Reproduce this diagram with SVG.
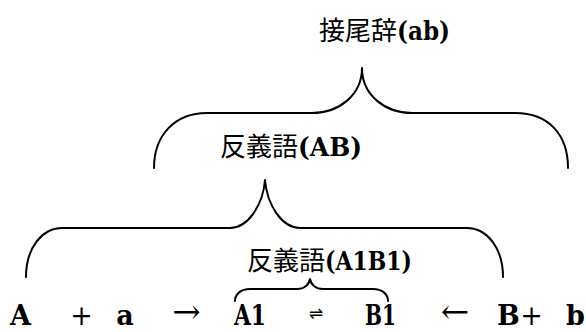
<svg xmlns="http://www.w3.org/2000/svg" width="586" height="332" viewBox="0 0 586 332">
<style>
.br{fill:none;stroke:#000;stroke-width:2;stroke-linecap:round;stroke-linejoin:round}
.cjk{font-family:'Noto Sans CJK JP',sans-serif;font-size:26px}
.lat{font-family:'DejaVu Serif',serif;font-size:26px;font-weight:bold}
.row{font-family:'DejaVu Serif',serif;font-size:27px;font-weight:bold}
.plus{font-family:'DejaVu Serif',serif;font-size:27px}
.arr{font-family:'DejaVu Serif',serif;font-size:34px}
</style>
<rect width="586" height="332" fill="#fff"/>
<g id="connectors">
<path class="br" d="M154,168 C154,135 175,113 207,113 L312,113 C339,113 362,95 362,68 C362,95 385,113 412,113 L515,113 C549,113 568,135 568,168"/>
<path class="br" d="M26,277 C26,248 42,228 62,228 L230,228 C248,228 263,205 265,180 C267,205 282,228 300,228 L467,228 C487,228 503,248 503,277"/>
<path class="br" d="M235,301 C235,294 241,289 250,289 L297,289 C304,289 309,285 310,279 C311,285 316,289 323,289 L373,289 C382,289 388,294 388,301"/>
</g>
<g id="label-suffix">
<text class="cjk" x="319" y="40">接尾辞</text>
<text class="lat" x="397" y="40" textLength="53" lengthAdjust="spacingAndGlyphs">(ab)</text>
</g>
<g id="label-antonym-AB">
<text class="cjk" x="220" y="156">反義語</text>
<text class="lat" x="298" y="156" textLength="64" lengthAdjust="spacingAndGlyphs">(AB)</text>
</g>
<g id="label-antonym-A1B1">
<text class="cjk" x="247" y="270">反義語</text>
<text class="lat" x="325" y="270" textLength="87" lengthAdjust="spacingAndGlyphs">(A1B1)</text>
</g>
<g id="node-A"><text class="row" x="10" y="325">A</text></g>
<g id="node-plus1"><text class="plus" x="81.5" y="325" text-anchor="middle">+</text></g>
<g id="node-a"><text class="row" x="125" y="325" text-anchor="middle">a</text></g>
<g id="node-arrow-r"><text class="arr" x="186.5" y="323" text-anchor="middle">→</text></g>
<g id="node-A1"><text class="row" x="234" y="325" textLength="32" lengthAdjust="spacingAndGlyphs">A1</text></g>
<g id="node-eq"><text x="316" y="319" text-anchor="middle" font-family="DejaVu Sans, sans-serif" font-size="17">⇌</text></g>
<g id="node-B1"><text class="row" x="365" y="325" textLength="31" lengthAdjust="spacingAndGlyphs">B1</text></g>
<g id="node-arrow-l"><text class="arr" x="455" y="323" text-anchor="middle">←</text></g>
<g id="node-B"><text class="row" x="497" y="325">B</text></g>
<g id="node-plus2"><text class="plus" x="531.5" y="325" text-anchor="middle">+</text></g>
<g id="node-b"><text class="row" x="566" y="325">b</text></g>
</svg>
